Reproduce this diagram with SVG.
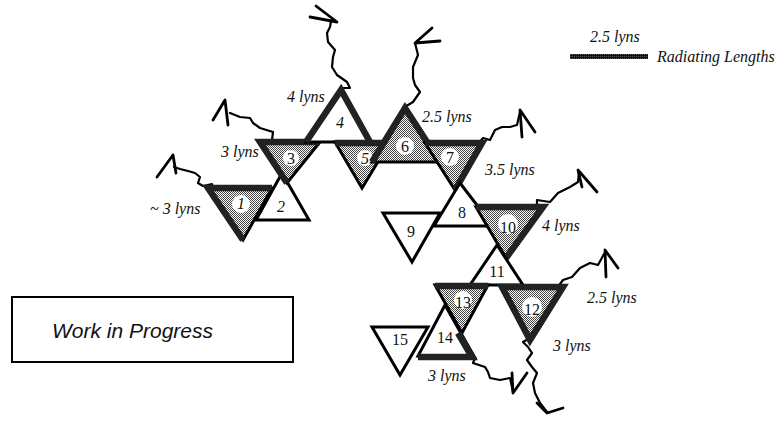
<svg xmlns="http://www.w3.org/2000/svg" width="784" height="425" viewBox="0 0 784 425">
<defs>
<pattern id="dots" width="2" height="2" patternUnits="userSpaceOnUse">
<rect width="2" height="2" fill="#fff"/>
<rect width="1" height="1" fill="#444"/>
<rect x="1" y="1" width="1" height="1" fill="#444"/>
</pattern>
<pattern id="dark" width="2" height="2" patternUnits="userSpaceOnUse">
<rect width="2" height="2" fill="#111"/>
<rect width="1" height="1" fill="#555"/>
</pattern>
</defs>
<style>
.tri{stroke:#000;stroke-width:3;stroke-linejoin:miter}
.sh{fill:url(#dots)}
.wh{fill:#fff}
.thick{fill:none;stroke:#222;stroke-width:6.5;stroke-linejoin:miter;stroke-linecap:butt}
.wig{fill:none;stroke:#000;stroke-width:2.2;stroke-linejoin:round;stroke-linecap:round}
.tip{fill:none;stroke:#000;stroke-width:2.8;stroke-linecap:round;stroke-linejoin:round}
.lbl{font-family:"Liberation Serif",serif;font-style:italic;font-size:16px;fill:#111}
.num{font-family:"Liberation Serif",serif;font-size:16px;text-anchor:middle;fill:#111}
.it{font-style:italic}
.hole{fill:#fff}
</style>
<rect width="784" height="425" fill="#fff"/>

<g id="connectors">
<polyline class="wig" points="213,189 212,184 203,186 198,183 200,177 195,173 188,171 180,169 174,167"/>
<polyline class="tip" points="157,177 173,155 176,173"/>
<polyline class="wig" points="272,140 273,132 260,128 253,123 250,118 240,117 230,113"/>
<polyline class="tip" points="213,120 225,100 228,125"/>
<polyline class="wig" points="342,88 350,88 347,82 337,75 332,67 333,57 335,50 328,42 327,33 330,27 331,21"/>
<polyline class="tip" points="310,17 337,22 316,6"/>
<polyline class="wig" points="403,108 413,102 420,92 415,85 413,78 413,67 418,55 415,43"/>
<polyline class="tip" points="432,28 415,43 440,41"/>
<polyline class="wig" points="477,145 483,138 490,140 495,130 502,127 510,127 517,125 520,112"/>
<polyline class="tip" points="522,137 520,110 535,132"/>
<polyline class="wig" points="537,208 537,200 550,202 558,193 570,187 578,182 579,172"/>
<polyline class="tip" points="582,187 578,170 597,192"/>
<polyline class="wig" points="560,284 563,280 572,277 580,268 590,263 598,265 604,254"/>
<polyline class="tip" points="606,277 605,250 618,268"/>
<polyline class="wig" points="530,338 523,342 528,347 532,353 527,360 532,367 537,373 533,383 535,393 540,403 547,412"/>
<polyline class="tip" points="537,403 547,413 563,408"/>
<polyline class="wig" points="475,358 473,363 485,367 488,372 490,378 500,380 510,378 512,387 513,392"/>
<polyline class="tip" points="512,373 513,393 527,373"/>
</g>

<g id="t1">
<polygon class="tri sh" points="208,188 272,188 243,240"/>
<polyline class="thick" points="243,240 208,188 272,188"/>
<circle class="hole" cx="241" cy="204" r="9"/>
<text class="num it" x="241" y="209">1</text>
</g>
<g id="t2">
<polygon class="tri wh" points="282,173 256,220 309,220"/>
<text class="num it" x="281" y="212">2</text>
</g>
<g id="t3">
<polygon class="tri sh" points="260,142 320,142 287,183"/>
<polyline class="thick" points="287,183 260,142 320,142"/>
<circle class="hole" cx="291" cy="158" r="8"/>
<text class="num" x="291" y="164">3</text>
</g>
<g id="t4">
<polygon class="tri wh" points="341,90 306,142 370,142"/>
<polyline class="thick" points="306,142 341,90 370,142"/>
<text class="num it" x="340" y="128">4</text>
</g>
<g id="t5">
<polygon class="tri sh" points="335,142 390,142 362,188"/>
<line class="thick" x1="335" y1="143" x2="390" y2="143"/>
<circle class="hole" cx="365" cy="158" r="8"/>
<text class="num it" x="365" y="164">5</text>
</g>
<g id="t6">
<polygon class="tri sh" points="405,108 372,162 440,162"/>
<polyline class="thick" points="372,162 405,108 440,162"/>
<circle class="hole" cx="405" cy="146" r="9"/>
<text class="num" x="405" y="152">6</text>
</g>
<g id="t7">
<polygon class="tri sh" points="425,143 482,143 455,190"/>
<polyline class="thick" points="425,143 482,143 455,190"/>
<circle class="hole" cx="450" cy="157" r="9"/>
<text class="num" x="450" y="163">7</text>
</g>
<g id="t8">
<polygon class="tri wh" points="460,183 434,226 493,226"/>
<text class="num" x="462" y="218">8</text>
</g>
<g id="t9">
<polygon class="tri wh" points="383,213 440,213 412,262"/>
<text class="num" x="411" y="237">9</text>
</g>
<g id="t10">
<polygon class="tri sh" points="476,207 543,207 506,258"/>
<polyline class="thick" points="476,207 543,207 506,258"/>
<circle class="hole" cx="508" cy="224" r="10"/>
<text class="num" x="508" y="233">10</text>
</g>
<g id="t11">
<polygon class="tri wh" points="497,245 470,285 523,285"/>
<text class="num" x="497" y="277">11</text>
</g>
<g id="t12">
<polygon class="tri sh" points="502,287 563,287 530,340"/>
<polygon class="thick" points="502,287 563,287 530,340"/>
<circle class="hole" cx="532" cy="307" r="10"/>
<text class="num" x="532" y="315">12</text>
</g>
<g id="t13">
<polygon class="tri sh" points="435,285 488,285 462,333"/>
<line class="thick" x1="435" y1="286" x2="488" y2="286"/>
<circle class="hole" cx="463" cy="300" r="9"/>
<text class="num" x="463" y="308">13</text>
</g>
<g id="t14">
<polygon class="tri wh" points="445,305 418,356 475,358"/>
<polyline class="thick" points="418,357 472,357 458,333"/>
<text class="num" x="445" y="343">14</text>
</g>
<g id="t15">
<polygon class="tri wh" points="372,327 428,327 400,375"/>
<text class="num" x="400" y="345">15</text>
</g>

<g id="labels">
<text class="lbl" x="150" y="214">~ 3 lyns</text>
<text class="lbl" x="221" y="157">3 lyns</text>
<text class="lbl" x="287" y="102">4 lyns</text>
<text class="lbl" x="422" y="122">2.5 lyns</text>
<text class="lbl" x="485" y="175">3.5 lyns</text>
<text class="lbl" x="542" y="231">4 lyns</text>
<text class="lbl" x="587" y="303">2.5 lyns</text>
<text class="lbl" x="553" y="351">3 lyns</text>
<text class="lbl" x="428" y="381">3 lyns</text>
</g>

<g id="legend">
<text class="lbl" x="590" y="42">2.5 lyns</text>
<rect x="570" y="54" width="78" height="5" fill="url(#dark)"/>
<text class="lbl" x="657" y="62">Radiating Lengths</text>
</g>

<g id="wip">
<rect x="12" y="297" width="281" height="65" fill="#fff" stroke="#000" stroke-width="2"/>
<text x="52" y="338" font-family="'Liberation Sans',Arial,sans-serif" font-style="italic" font-size="21" fill="#111">Work in Progress</text>
</g>
</svg>
